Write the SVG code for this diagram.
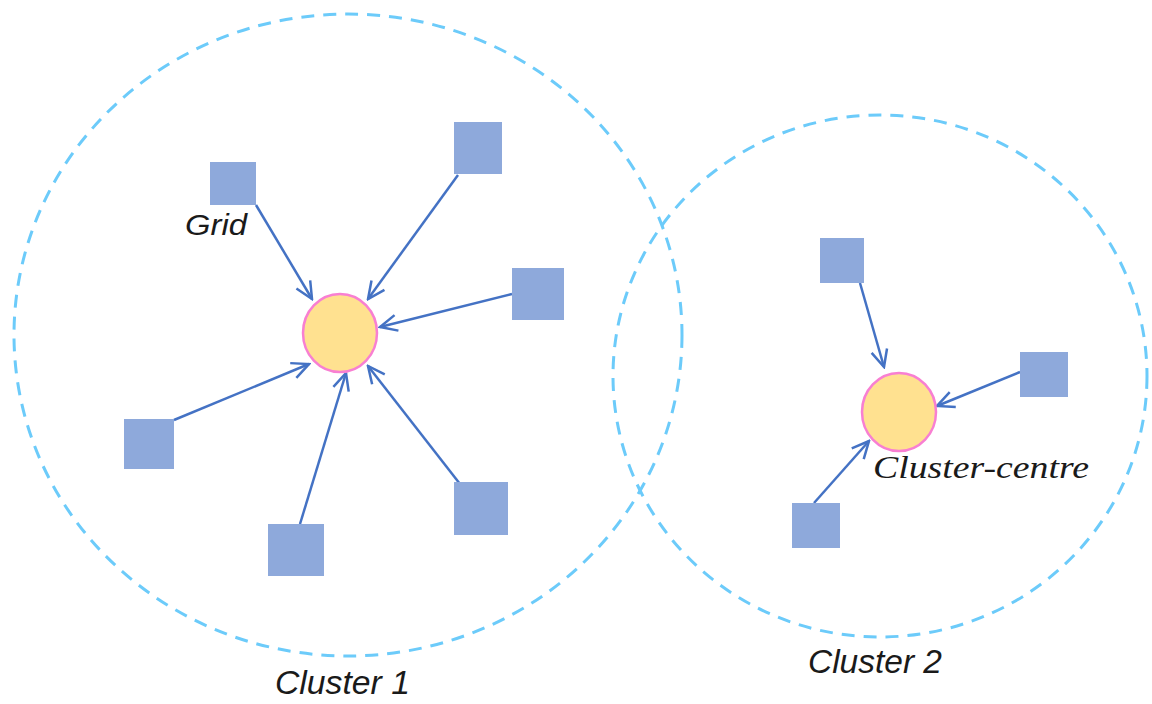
<svg xmlns="http://www.w3.org/2000/svg" width="1152" height="704" viewBox="0 0 1152 704">
<style>
.cl{fill:none;stroke:#6CCBFA;stroke-width:3;stroke-dasharray:13 9}
.sq{fill:#8EA9DB}
.ctr{fill:#FFE190;stroke:#F87FD2;stroke-width:2.5}
.ed{stroke:#4472C4;stroke-width:2.5;fill:none;marker-end:url(#ah)}
.lb{font-family:"Liberation Sans",Arial,sans-serif;font-style:italic;fill:#1a1a1a}
.lbs{font-family:"Liberation Serif","Times New Roman",serif;font-style:italic;fill:#1a1a1a}
</style>
<defs>
<marker id="ah" viewBox="0 0 20 20" refX="18" refY="10" markerWidth="20" markerHeight="20" markerUnits="userSpaceOnUse" orient="auto">
<path d="M1 2 L18 10 L1 18" fill="none" stroke="#4472C4" stroke-width="2.5"/>
</marker>
</defs>
<g id="cluster1"><ellipse class="cl" cx="348" cy="335" rx="334" ry="321"/></g>
<g id="cluster2"><ellipse class="cl" cx="880" cy="376" rx="267" ry="261"/></g>
<g id="edges">
<line class="ed" x1="256" y1="205" x2="312" y2="299"/>
<line class="ed" x1="458" y1="175" x2="368" y2="299"/>
<line class="ed" x1="512" y1="294" x2="380" y2="327"/>
<line class="ed" x1="174" y1="420" x2="309" y2="364"/>
<line class="ed" x1="300" y1="524" x2="346" y2="373"/>
<line class="ed" x1="460" y1="484" x2="368" y2="366"/>
<line class="ed" x1="860" y1="283" x2="884" y2="367"/>
<line class="ed" x1="1020" y1="372" x2="937" y2="406"/>
<line class="ed" x1="814" y1="503" x2="869" y2="441"/>
</g>
<g id="centre1"><ellipse class="ctr" cx="340" cy="333" rx="37" ry="39"/></g>
<g id="centre2"><ellipse class="ctr" cx="899" cy="412" rx="37" ry="39"/></g>
<g id="grid1"><rect class="sq" x="210" y="162" width="46" height="43"/></g>
<g id="grid2"><rect class="sq" x="454" y="122" width="48" height="52"/></g>
<g id="grid3"><rect class="sq" x="512" y="268" width="52" height="52"/></g>
<g id="grid4"><rect class="sq" x="124" y="419" width="50" height="50"/></g>
<g id="grid5"><rect class="sq" x="268" y="524" width="56" height="52"/></g>
<g id="grid6"><rect class="sq" x="454" y="482" width="54" height="53"/></g>
<g id="grid7"><rect class="sq" x="820" y="238" width="44" height="45"/></g>
<g id="grid8"><rect class="sq" x="1020" y="352" width="48" height="45"/></g>
<g id="grid9"><rect class="sq" x="792" y="503" width="48" height="45"/></g>
<g id="labels">
<text class="lb" x="185" y="235" font-size="30" textLength="62" lengthAdjust="spacingAndGlyphs">Grid</text>
<text class="lbs" x="873" y="478" font-size="32" textLength="216" lengthAdjust="spacingAndGlyphs">Cluster-centre</text>
<text class="lb" x="275" y="694" font-size="33" textLength="135" lengthAdjust="spacingAndGlyphs">Cluster 1</text>
<text class="lb" x="808" y="673" font-size="33" textLength="134" lengthAdjust="spacingAndGlyphs">Cluster 2</text>
</g>
</svg>
